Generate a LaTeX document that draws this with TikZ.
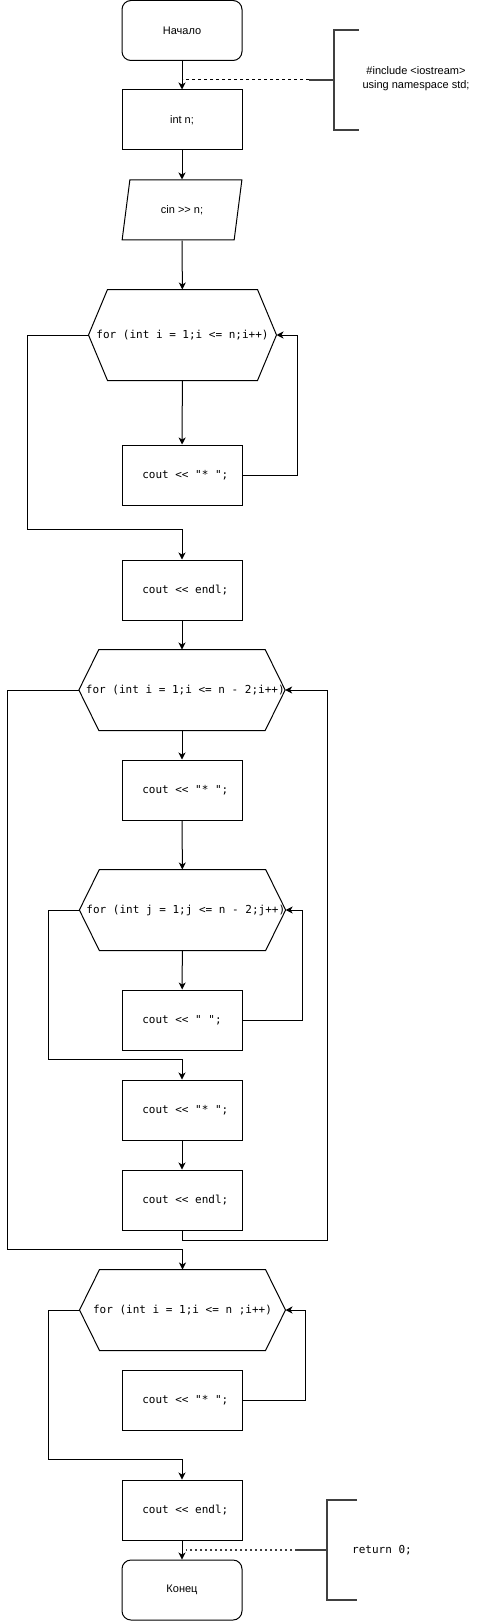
\documentclass[tikz,border=0pt]{standalone}
\usepackage{fontspec}
\setmainfont{Liberation Sans}
\setmonofont{DejaVu Sans Mono}
\usetikzlibrary{arrows.meta,shapes.geometric,calc,positioning}

\begin{document}
\begin{tikzpicture}[x=1pt,y=-1pt,line width=1pt,font=\fontsize{11}{14}\selectfont]

\tikzset{termnode/.style={draw,rounded corners=9pt,minimum width=120pt,minimum height=60pt,inner sep=0pt},
procnode/.style={draw,minimum width=120pt,minimum height=60pt,inner sep=0pt},
codenode/.style={procnode,font=\fontsize{11}{14}\ttfamily},
ionode/.style={draw,trapezium,trapezium left angle=71.57,trapezium right angle=108.43,trapezium stretches=true,minimum width=120pt,minimum height=60pt,inner sep=0pt},
loopnode/.style={inner sep=0pt,minimum height=80pt,font=\fontsize{11}{14}\ttfamily},
arr/.style={-{Stealth[length=7pt,width=7pt,inset=2pt]}},
bracket/.style={line width=2pt,draw=black!75},
note/.style={align=center}}

\useasboundingbox (0,0) rectangle (483,1621);

% Main column
\node[termnode] (start) at (182,30.5) {Начало};
\node[procnode] (intn) at (182,120) {int n;};
\node[ionode] (cinn) at (182,210) {cin >{}> n;};
\node[loopnode,minimum width=187pt,minimum height=90pt] (for1) at (182.5,335) {for (int i = 1;i <= n;i++)};
\node[codenode] (star1) at (182,475) {\ cout << "* ";};
\node[codenode] (endl1) at (182,590) {\ cout << endl;};
\node[loopnode,minimum width=204pt] (for2) at (182,690) {\ for (int i = 1;i <= n - 2;i++)};
\node[codenode] (star2) at (182,790) {\ cout << "* ";};
\node[loopnode,minimum width=199pt] (for3) at (182.5,910) {\ for (int j = 1;j <= n - 2;j++)};
\node[codenode] (space3) at (182,1020) {cout << " ";};
\node[codenode] (star4) at (182,1110) {\ cout << "* ";};
\node[codenode] (endl2) at (182,1200) {\ cout << endl;};
\node[loopnode,minimum width=205pt] (for4) at (182.5,1310) {for (int i = 1;i <= n ;i++)};
\node[codenode] (star5) at (182,1400) {\ cout << "* ";};
\node[codenode] (endl3) at (182,1510) {\ cout << endl;};
\node[termnode] (stop) at (182,1590) {Конец};

% Loop headers
\foreach \h/\d in {for1/19,for2/20,for3/20,for4/20} \draw (\h.west) -- ([xshift=\d]\h.north west) -- ([xshift=-\d]\h.north east) -- (\h.east) -- ([xshift=-\d]\h.south east) -- ([xshift=\d]\h.south west) -- cycle;

% Straight arrows
\draw[arr] (start) -- (intn);
\draw[arr] (intn) -- (cinn);
\draw[arr] (cinn) -- (for1);
\draw[arr] (for1) -- (star1);
\draw[arr] (endl1) -- (for2);
\draw[arr] (for2) -- (star2);
\draw[arr] (star2) -- (for3);
\draw[arr] (for3) -- (space3);
\draw[arr] (star4) -- (endl2);
\draw[arr] (endl3) -- (stop);

% Loop backs
\draw[arr] (star1.east) -- ++(55,0) |- (for1.east);
\draw[arr] (endl2.south) -- ++(0,10) -- ++(145,0) |- (for2.east);
\draw[arr] (space3.east) -- ++(60,0) |- (for3.east);
\draw[arr] (star5.east) -- ++(63,0) |- (for4.east);

% Loop exits
\draw[arr] (for1.west) -- (27,335) |- ($(endl1.north)+(0,-30)$) -- (endl1.north);
\draw[arr] (for2.west) -- (7,690) |- ($(for4.north)+(0,-20)$) -- (for4.north);
\draw[arr] (for3.west) -- (48,910) |- ($(star4.north)+(0,-20)$) -- (star4.north);
\draw[arr] (for4.west) -- (48,1310) |- ($(endl3.north)+(0,-20)$) -- (endl3.north);

% Comments
\node[note] (inc) at (416,79) {\#include <iostream>\\using namespace std;};
\coordinate (incstub) at (309,80);
\coordinate (incjoin) at (183,80);
\draw[bracket] (359,30) -- (334,30) -- (334,130) -- (359,130) (334,80) -- (incstub);
\draw[dashed] (incstub) -- (incjoin);

\node[font=\fontsize{11}{14}\ttfamily] (ret) at (382,1550) {return 0;};
\coordinate (retstub) at (297,1550);
\coordinate (retjoin) at (186,1550);
\draw[bracket] (357,1500) -- (327,1500) -- (327,1600) -- (357,1600) (327,1550) -- (retstub);
\draw[line width=2pt,draw=black!75,dash pattern=on 2pt off 3pt] (retstub) -- (retjoin);

\end{tikzpicture}
\end{document}
